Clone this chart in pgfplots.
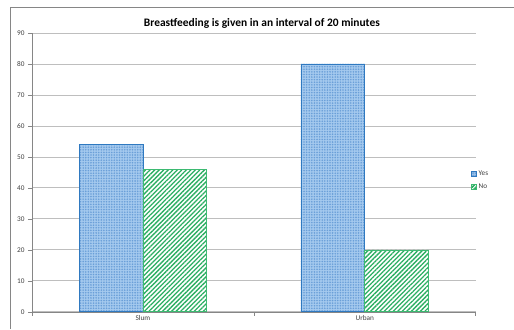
\documentclass[border=0pt]{standalone}
\usepackage{pgfplots}
\pgfplotsset{compat=1.18}
\usepackage{fontspec}
\setmainfont{Carlito}
\usetikzlibrary{patterns.meta,patterns}
\definecolor{gridc}{HTML}{BEBEBE}
\definecolor{axc}{HTML}{868686}
\definecolor{yesfill}{HTML}{A4C9EE}
\definecolor{yesdot}{HTML}{6A9FD8}
\definecolor{yesedge}{HTML}{2F79C0}
\definecolor{noline}{HTML}{2BAE62}
\definecolor{noedge}{HTML}{3DBA72}
\definecolor{txt}{HTML}{404040}
\begin{document}
\begin{tikzpicture}[x=1bp,y=1bp]
\path (0,0) rectangle (514,329);
\draw[axc,line width=0.6bp] (10.5,0) -- (10.5,321.5) -- (514,321.5);
\node[font=\bfseries\fontsize{11.5}{13}\selectfont,text=black] at (262,306) {Breastfeeding is given in an interval of 20 minutes};
\begin{axis}[
  at={(32bp,17bp)}, anchor=south west,
  scale only axis, width=444bp, height=279bp,
  ybar=0pt, bar width=0.288,
  xmin=-0.5, xmax=1.5, ymin=0, ymax=90,
  ytick={0,10,...,90},
  xtick={-0.5,0.5,1.5}, xticklabels={},
  extra x ticks={0,1}, extra x tick labels={Slum,Urban},
  extra x tick style={major tick length=0pt, grid=none},
  axis x line=bottom, axis y line=left,
  axis line style={-, axc, line width=0.6bp},
  tick style={axc, line width=0.6bp},
  tick align=outside, major tick length=4bp,
  ymajorgrids, grid style={gridc, line width=0.8bp},
  ticklabel style={font=\fontsize{7.3}{8}\selectfont, text=txt},
  /pgf/number format/assume math mode=true,
  legend style={draw=none, fill=none, at={(0.982,0.47)}, anchor=west,
    font=\fontsize{7.3}{8}\selectfont, text=txt, row sep=3bp,
    /tikz/every even column/.append style={column sep=1bp}},
  legend cell align=left,
]
\addplot[draw=yesedge, line width=0.7bp, fill=yesfill,
  postaction={pattern={Dots[radius=0.9bp,distance=2.6bp]}, pattern color=yesdot},
  legend image code/.code={\draw[draw=yesedge,fill=yesfill,postaction={pattern={Dots[radius=0.5bp,distance=1.6bp]},pattern color=yesdot}] (0bp,-2.5bp) rectangle (5bp,2.5bp);}]
  coordinates {(0,54) (1,80)};
\addplot[draw=noedge, line width=0.7bp, fill=white,
  postaction={pattern={Lines[angle=45,distance=3.2bp,line width=1.3bp]}, pattern color=noline},
  legend image code/.code={\draw[draw=noedge,fill=white,postaction={pattern={Lines[angle=45,distance=2bp,line width=0.8bp]},pattern color=noline}] (0bp,-2.5bp) rectangle (5bp,2.5bp);}]
  coordinates {(0,46) (1,20)};
\legend{Yes,No}
\end{axis}
\end{tikzpicture}
\end{document}
